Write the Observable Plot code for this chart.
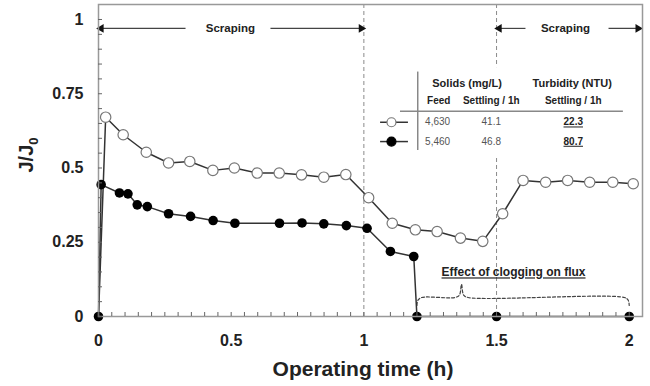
<!DOCTYPE html>
<html><head><meta charset="utf-8">
<script src="https://cdn.jsdelivr.net/npm/d3@7"></script>
<script src="https://cdn.jsdelivr.net/npm/@observablehq/plot@0.6"></script>
<style>
body{margin:0;background:#fff;}
#chart{width:650px;height:386px;}
</style></head><body><div id="chart"></div>
<script>
// ---- data ----
const openTime = [0, 0.027, 0.093, 0.180, 0.264, 0.344, 0.431, 0.512, 0.598, 0.681, 0.765, 0.849, 0.932, 1.018, 1.107, 1.194, 1.276, 1.364, 1.448, 1.523, 1.600, 1.685, 1.768, 1.851, 1.938, 2.015];
const openFlux = [0, 0.671, 0.612, 0.553, 0.517, 0.522, 0.492, 0.500, 0.483, 0.483, 0.477, 0.469, 0.478, 0.400, 0.314, 0.292, 0.286, 0.264, 0.253, 0.346, 0.458, 0.452, 0.458, 0.452, 0.452, 0.447];
const filledTime = [0, 0.010, 0.079, 0.111, 0.146, 0.184, 0.264, 0.347, 0.432, 0.514, 0.682, 0.767, 0.849, 0.934, 1.012, 1.100, 1.188, 1.200, 1.5, 2.0];
const filledFlux = [0, 0.444, 0.416, 0.413, 0.376, 0.370, 0.346, 0.337, 0.323, 0.314, 0.314, 0.315, 0.312, 0.306, 0.297, 0.219, 0.202, 0, 0, 0];
const xTicks = [0, 0.5, 1, 1.5, 2];
const yTicks = [0, 0.25, 0.5, 0.75, 1];
const feedSolids = ["4,630", "5,460"];
const settlingSolids = ["41.1", "46.8"];
const settlingTurbidity = ["22.3", "80.7"];
const dividers = [1, 1.5];
const scrapingLabel = "Scraping";
const cloggingLabel = "Effect of clogging on flux";

// ---- layout constants (annotation placement, data units) ----
const xMax = 2.05, yMax = 1.0505;
const arrowY = 0.97;
const scrapeSegs = [
  {x1: 0.328, x2: 0.0, head: -90}, {x1: 0.648, x2: 1.0, head: 90},
  {x1: 1.609, x2: 1.5, head: -90}, {x1: 1.922, x2: 2.043, head: 90}
];
const scrapeText = [{x: 0.497}, {x: 1.76}];
const braceTip = 1.368;
const brace = [
  [1.200, 0.037], [1.204, 0.055], [1.218, 0.064], [braceTip - 0.025, 0.064], [braceTip - 0.008, 0.072], [braceTip, 0.108],
  [braceTip + 0.008, 0.072], [braceTip + 0.025, 0.064], [1.982, 0.064], [1.996, 0.055], [2.0, 0.037]
].map(([x, y]) => ({x, y}));

const series = [];
openTime.forEach((t, i) => series.push({s: "open", t, v: openFlux[i]}));
filledTime.forEach((t, i) => series.push({s: "filled", t, v: filledFlux[i]}));
const openPts = series.filter(d => d.s === "open" && d.t > 0);
const filledPts = series.filter(d => d.s === "filled");

const rowY = [0.654, 0.589];
const legendRows = feedSolids.map((f, i) => ({y: rowY[i], feed: f, sett: settlingSolids[i], turb: settlingTurbidity[i], open: i === 0}));
const colX = {marker: 1.104, feed: 1.278, sett: 1.480, turb: 1.789};

const font = "Liberation Sans, Arial, Helvetica, sans-serif";
const plot = Plot.plot({
  width: 650, height: 386,
  marginLeft: 98, marginRight: 8, marginTop: 4, marginBottom: 70,
  style: {fontFamily: font, background: "#fff", color: "#222", overflow: "visible"},
  x: {domain: [0, xMax]},
  y: {domain: [0, yMax]},
  marks: [
    Plot.ruleX(dividers, {stroke: "#8a8a8a", strokeDasharray: "4,3", strokeWidth: 1}),
    // legend table
    Plot.rect([{x1: 1.044, x2: 2.04, y1: 0.542, y2: 0.838}], {x1: "x1", x2: "x2", y1: "y1", y2: "y2", fill: "white"}),
    Plot.ruleY([0.691], {x1: 1.138, x2: 1.978, stroke: "#888", strokeWidth: 1.5}),
    Plot.ruleX([1.203], {y1: 0.559, y2: 0.823, stroke: "#888", strokeWidth: 1.5}),
    Plot.text(["Solids (mg/L)", "Turbidity (NTU)"], {x: [1.389, 1.785], y: [0.786, 0.786], text: d => d, fontSize: 11, fontWeight: "bold", fill: "#222"}),
    Plot.text(["Feed", "Settling / 1h", "Settling / 1h"], {x: [1.282, 1.480, 1.789], y: [0.725, 0.725, 0.725], text: d => d, fontSize: 10, fontWeight: "bold", fill: "#222"}),
    Plot.text(legendRows, {x: colX.feed, y: "y", text: "feed", fontSize: 10, fill: "#555"}),
    Plot.text(legendRows, {x: colX.sett, y: "y", text: "sett", fontSize: 10, fill: "#555"}),
    Plot.text(legendRows, {x: colX.turb, y: "y", text: "turb", fontSize: 10, fontWeight: "bold", fill: "#222"}),
    Plot.ruleY(legendRows, {y: "y", x1: 1.063, x2: 1.168, stroke: "#333", strokeWidth: 1.5}),
    Plot.dot(legendRows, {x: colX.marker, y: "y", r: 4.5, fill: d => d.open ? "white" : "black", stroke: d => d.open ? "#777" : "black", strokeWidth: 1.2}),
    // scraping arrows
    Plot.link(scrapeSegs, {x1: "x1", x2: "x2", y1: arrowY, y2: arrowY, stroke: "#444", strokeWidth: 1.2}),
    Plot.dot(scrapeSegs, {x: d => d.x2 + (d.head > 0 ? -0.01 : 0.01), y: arrowY, symbol: "triangle", r: 3.2, rotate: "head", fill: "#111", stroke: "none"}),
    Plot.text(scrapeText, {x: "x", y: arrowY, text: () => scrapingLabel, fontSize: 11.5, fontWeight: "bold", fill: "#222"}),
    // clogging brace
    Plot.line(brace, {x: "x", y: "y", curve: "catmull-rom", stroke: "#444", strokeWidth: 1.2, strokeDasharray: "3,2"}),
    Plot.text([cloggingLabel], {x: 1.564, y: 0.148, text: d => d, fontSize: 12, fontWeight: "bold", fill: "#222"}),
    // data
    Plot.line(series, {x: "t", y: "v", z: "s", stroke: "#333", strokeWidth: 1.5}),
    Plot.dot(openPts, {x: "t", y: "v", r: 5.2, fill: "white", stroke: "#777", strokeWidth: 1.2}),
    Plot.dot(filledPts, {x: "t", y: "v", r: 4.8, fill: "black"}),
    // axes
    Plot.frame({stroke: "#999", strokeWidth: 1.5}),
    Plot.axisX(d3.range(0, 2.001, 0.05), {tickSize: -4, tickFormat: () => "", stroke: "#666", label: null}),
    Plot.axisY(d3.range(0, 1.001, 0.05), {tickSize: -4, tickFormat: () => "", stroke: "#666", label: null}),
    Plot.axisX(xTicks, {tickSize: 0, tickPadding: 18, tickFormat: d => String(d), fontSize: 16, fontWeight: "bold", fill: "#222", label: null}),
    Plot.axisY(yTicks, {tickSize: 0, tickPadding: 15, tickFormat: d => String(d), fontSize: 16, fontWeight: "bold", fill: "#222", label: null})
  ]
});
document.getElementById("chart").appendChild(plot);
const svg = d3.select(plot);
svg.selectAll("text").filter(function() { return this.textContent === cloggingLabel || settlingTurbidity.includes(this.textContent); })
  .style("text-decoration", "underline");
// axis titles
const yl = svg.append("text").attr("transform", "translate(33,155) rotate(-90)").attr("text-anchor", "middle")
  .attr("font-family", font).attr("font-size", 20).attr("font-weight", "bold").attr("fill", "#222");
yl.append("tspan").text("J/J");
yl.append("tspan").attr("font-size", 13).attr("dy", 5).text("0");
svg.append("text").attr("x", 363).attr("y", 376).attr("text-anchor", "middle")
  .attr("font-family", font).attr("font-size", 21).attr("font-weight", "bold").attr("fill", "#222").text("Operating time (h)");
</script></body></html>
